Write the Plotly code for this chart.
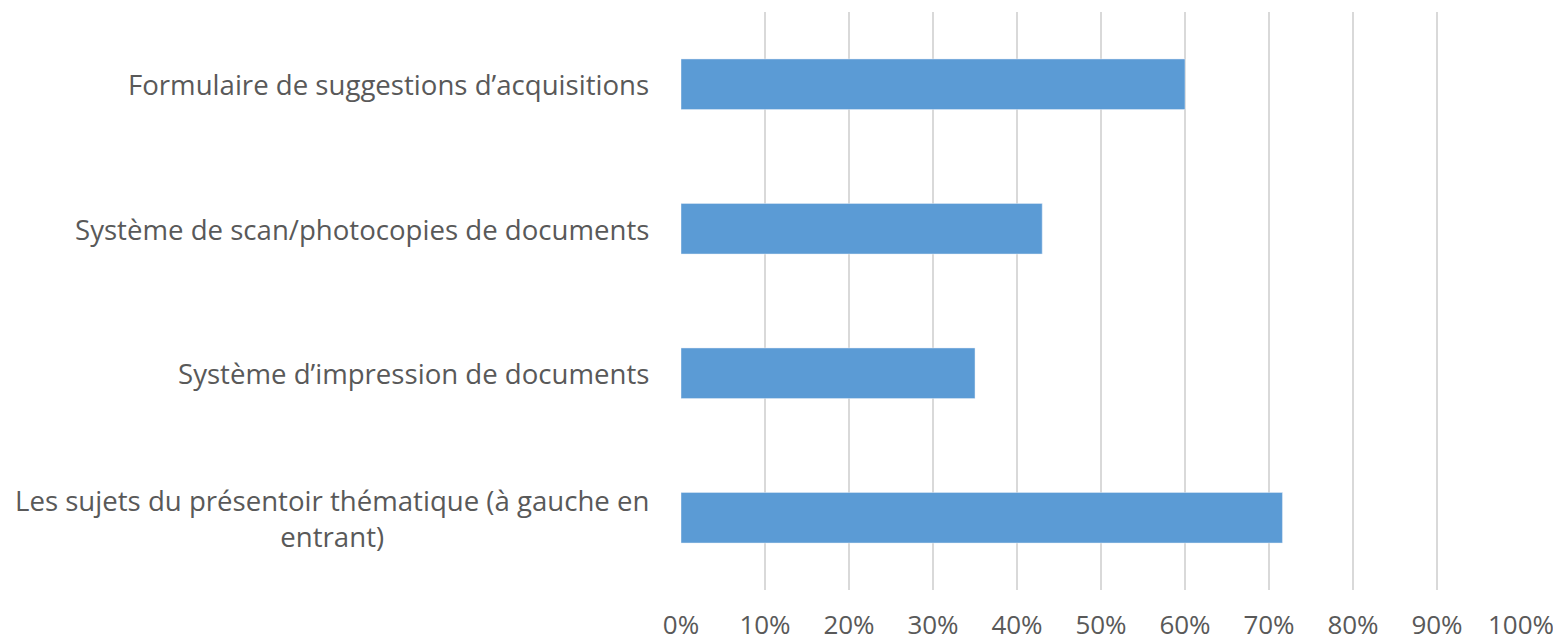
import plotly.graph_objects as go

categories = [
    "Les sujets du présentoir thématique (à gauche en<br>entrant)",
    "Système d’impression de documents",
    "Système de scan/photocopies de documents",
    "Formulaire de suggestions d’acquisitions",
]
values = [0.716, 0.35, 0.43, 0.60]
tick_vals = [i / 10 for i in range(11)]
tick_text = [f"{i*10}%" for i in range(11)]

FONT = "Open Sans"
GREY = "#595959"

fig = go.Figure()
fig.add_trace(go.Bar(
    y=categories, x=values, orientation="h",
    marker=dict(color="#5B9BD5"),
    hoverinfo="skip",
))

for c in categories:
    fig.add_annotation(
        xref="paper", yref="y", x=0, y=c, xanchor="right", yanchor="middle",
        xshift=-30, text=c, showarrow=False, align="center",
        font=dict(family=FONT, size=27.6, color=GREY),
    )

fig.update_layout(
    width=1553, height=634,
    margin=dict(l=673, r=40, t=4, b=52),
    paper_bgcolor="white", plot_bgcolor="white",
    bargap=0.65,
    showlegend=False,
    xaxis=dict(
        range=[0, 1], tickvals=tick_vals, ticktext=tick_text,
        showgrid=True, gridcolor="#d9d9d9", gridwidth=1.5,
        zeroline=False, showline=False, automargin=False,
        tickfont=dict(family=FONT, size=26, color=GREY),
        ticklabelstandoff=17,
    ),
    yaxis=dict(
        categoryorder="array", categoryarray=categories,
        showticklabels=False, showgrid=False, zeroline=False, showline=False,
        automargin=False,
    ),
)

fig.write_html("out.html")
